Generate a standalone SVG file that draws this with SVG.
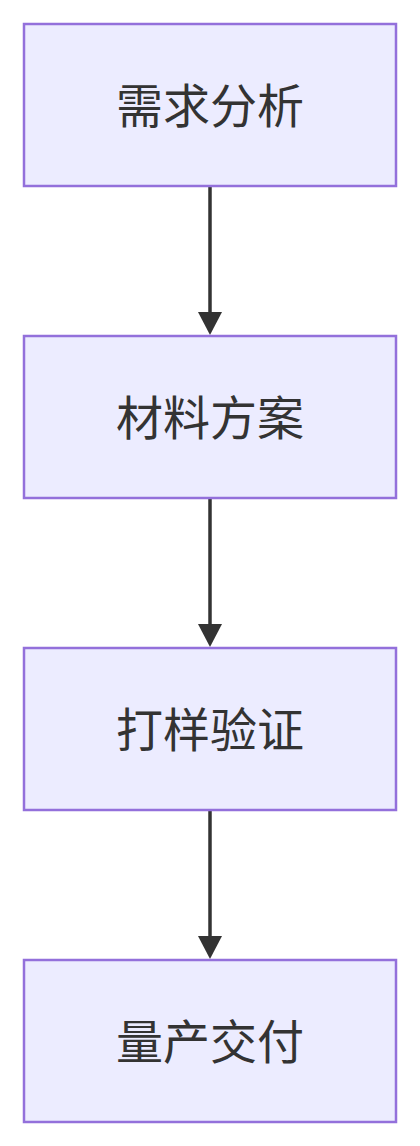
<svg xmlns="http://www.w3.org/2000/svg" width="420" height="1146" viewBox="0 0 420 1146">
<style>
.node rect{fill:#ECECFF;stroke:#9370DB;stroke-width:2.5}
.node text{font-family:"Noto Sans CJK SC","Liberation Sans",sans-serif;font-size:47px;fill:#333;text-anchor:middle;dominant-baseline:central}
.edge{stroke:#333;stroke-width:3.5;fill:none;marker-end:url(#arrow)}
</style>
<defs>
<marker id="arrow" viewBox="0 0 23 24" refX="8" refY="12" markerWidth="23" markerHeight="24" markerUnits="userSpaceOnUse" orient="auto">
<path d="M0,0 L23,12 L0,24 Z" fill="#333"/>
</marker>
</defs>
<rect width="420" height="1146" fill="#fff"/>
<g id="edges">
<path class="edge" d="M210,186 L210,320"/>
<path class="edge" d="M210,498 L210,632"/>
<path class="edge" d="M210,810 L210,944"/>
</g>
<g id="n1" class="node"><rect x="24" y="24" width="372" height="162"/><text x="210" y="102">需求分析</text></g>
<g id="n2" class="node"><rect x="24" y="336" width="372" height="162"/><text x="210" y="414">材料方案</text></g>
<g id="n3" class="node"><rect x="24" y="648" width="372" height="162"/><text x="210" y="726">打样验证</text></g>
<g id="n4" class="node"><rect x="24" y="960" width="372" height="162"/><text x="210" y="1038">量产交付</text></g>
</svg>
